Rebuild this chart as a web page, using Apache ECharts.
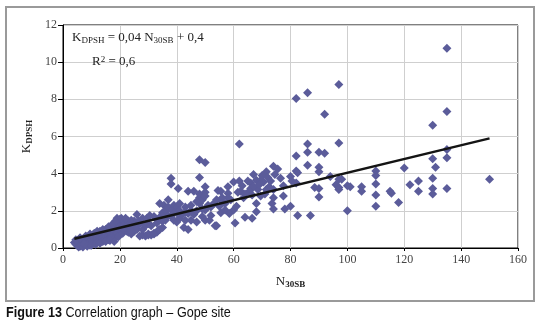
<!DOCTYPE html>
<html>
<head>
<meta charset="utf-8">
<script src="https://cdn.jsdelivr.net/npm/echarts@6/dist/echarts.min.js"></script>
<style>
  html, body { margin: 0; padding: 0; background: #fff; }
  #chart { width: 547px; height: 329px; }
</style>
</head>
<body>
<div id="chart"></div>
<script>
// N30SB vs KDPSH
var lowPoints = [
  [4,0.3],[4.5,0.2],[5,0.35],[5,0.15],[5.5,0.45],[6,0.25],[6,0.1],[6.5,0.4],[7,0.3],[7,0.15],
  [7.5,0.5],[8,0.35],[8,0.2],[8.5,0.55],[9,0.4],[9,0.25],[9.5,0.6],[10,0.45],[10,0.3],[10.5,0.7],
  [11,0.5],[11,0.35],[11.5,0.65],[12,0.55],[12,0.4],[12.5,0.75],[13,0.6],[13,0.45],[13.5,0.8],[14,0.65],
  [14,0.5],[14.5,0.85],[15,0.7],[15,0.55],[15.5,0.9],[16,0.75],[16,0.6],[16.5,1.0],[17,0.8],[17,0.65],
  [17,1.1],[17.5,0.5],[18,0.9],[18,1.15],[18,0.6],[18.5,1.2],[19,1.0],[19,0.8],[19,1.3],[19.5,1.1],
  [20,1.2],[20,0.95],[20,1.4],[20.5,1.3],[21,1.1],[21,1.5],[21.5,1.25],[22,1.0],[22,1.35],[22.5,1.2],
  [23,1.45],[23,1.1],[23.5,1.3],[24,1.0],[24,1.5],[24.5,1.25],[25,1.1],[25,1.45],[25.5,1.3],[26,1.8],
  [26,1.2],[5.5,0.05],[7,0.05],[9.5,0.15],[12,0.3],[14,0.35],[16,0.45],[11,0.8],[13,0.9],[15,1.0],
  [19,1.6],[20,1.55],[17,0.55],[18,0.5],
  [4.5,0.45],[6,0.55],[7.5,0.2],[8.5,0.1],[10,0.15],[11.5,0.2],[13,0.25],[15,0.35],[16.5,0.4],[18,0.35],
  [19.5,0.6],[21,0.8],[22.5,0.9],[24,0.75],[8,0.65],[9.5,0.75],[12,0.9],[14,1.0],[16,1.15],[17.5,1.3],
  [18.5,1.45],[20.5,1.6],[21.5,0.95],[23,0.85],[25,0.9],[26,1.0]
];
var midPoints = [
  [27,0.65],[28,0.7],[29,0.65],[30,0.75],[30,0.7],[31,0.7],[32,0.8],[32,0.75],[33,0.85],[33.5,0.95],
  [34,1.0],[35,1.1],[28,1.0],[29,1.2],[30,1.3],[31,1.2],[27,1.3],[28,1.6],[26.5,1.45],[29.5,1.6],
  [30.5,1.75],[32,1.7],[33,1.55],[34,1.65],[35,1.9],[34,2.4],[35.5,2.3],[36,1.5],[36,2.0],[37,2.6],
  [37,2.2],[38,3.75],[38,3.45],[38,1.7],[38.5,2.0],[39,1.5],[39,2.3],[40,2.2],[40,1.9],[40,1.4],
  [40.5,3.2],[41,2.4],[41,1.6],[42,1.8],[42.5,1.1],[43,2.2],[43,1.5],[44,1.0],[44,3.05],[44,1.85],
  [45,2.0],[45,1.5],[46,3.05],[46,1.8],[47,2.0],[47,1.4],[48,2.4],[48,2.7],[48,2.9],[48,3.8],
  [48,4.75],[49,2.6],[49,2.1],[49,1.7],[50,4.6],[50,3.3],[50,3.0],[50,2.8],[50,2.05],[50,1.5],
  [51,2.3],[51.5,1.5],[52,1.75],[53,2.4],[53.5,1.2],[54,1.2],[54.5,3.1],[55,2.25],[55.5,3.05],[55.5,1.9],
  [56,2.5],[57,2.05],[57,2.4],[58,3.3],[58,2.95],[58,2.7],[58.5,1.85],[60,3.55],[60,2.05],[60.5,1.35],
  [61,2.25],[61.5,3.0],[62,5.6],[62,3.6],[62.5,3.05],[63,3.35],[63.5,2.7],[64,1.65],[65,3.6],[65.5,3.05],
  [66,3.5],[66.5,1.6],[66.5,2.85],[67,3.95],[68,3.65],[68,2.4],[68,1.95],[68.5,3.15],[69.5,3.65],[69.5,2.8],
  [70.5,3.55],[71,2.9],[71.5,4.1],[71.5,3.15],[72,3.8],[72.5,3.3],[73.5,2.4],[74,4.4],[74,3.15],[74,2.7],
  [74,2.1],[74.5,3.95],[75.5,4.25],[76.5,3.75],[77.5,3.35],[77.5,2.8],[78,2.1],
  [33,1.35],[35,1.45],[37,1.75],[39,1.9],[41,2.0],[43,1.95],[45,2.3],[47,2.5],[52,2.2],[54,2.6],
  [56,2.7],[59,2.6],[64,2.9],[66,3.2],[67,3.3],[69,3.4],[70,3.9],[73,3.6],[24,0.9],[22,1.6]
];
var highPoints = [
  [135,10.75],[97,8.8],[86,8.35],[82,8.05],[92,7.2],[135,7.35],[130,6.6],[86,5.6],[97,5.65],[82,4.95],
  [86,5.15],[90,5.15],[92,5.1],[86,4.45],[90,4.35],[90,4.1],[82,4.15],[82.5,4.05],[135,5.3],[135,4.85],
  [130,4.8],[131,4.35],[120,4.3],[110,4.15],[110,3.9],[130,3.75],[150,3.7],[94,3.85],[97,3.7],[98,3.7],
  [96,3.4],[97,3.25],[97,3.15],[100,3.35],[101,3.3],[90,3.2],[88.5,3.25],[105,3.3],[105,3.05],[110,3.45],
  [110,2.85],[115,3.05],[115.5,2.95],[122,3.4],[125,3.6],[125,3.05],[130,3.2],[130,2.9],[135,3.2],[118,2.45],
  [110,2.25],[100,2.0],[90,2.75],[82.5,1.75],[87,1.75],[80,2.25],[80,3.85],[80.5,3.6],[82,3.5]
];
var trendLine = [[4, 0.5], [150, 5.9]];
var xTicks = { min: 0, max: 160, step: 20 };
var yTicks = { min: 0, max: 12, step: 2 };

var chart = echarts.init(document.getElementById('chart'));
var serif = '"Liberation Serif", "DejaVu Serif", serif';
var capFont = '"Liberation Sans", sans-serif';
var option = {
  animation: false,
  grid: {
    left: 63, top: 25, right: 29, bottom: 81,
    show: true, borderColor: '#000', borderWidth: 1
  },
  xAxis: {
    type: 'value',
    min: xTicks.min, max: xTicks.max, interval: xTicks.step,
    name: 'N{s|30SB}',
    nameLocation: 'middle',
    nameGap: 26,
    nameTextStyle: {
      fontFamily: serif, fontSize: 13, color: '#222',
      rich: { s: { fontFamily: serif, fontSize: 9, fontWeight: 'bold', color: '#222', verticalAlign: 'bottom', padding: [6, 0, 0, 0] } }
    },
    axisLine: { lineStyle: { color: '#000', width: 1 } },
    axisTick: { show: true, length: 3, lineStyle: { color: '#000' } },
    axisLabel: { fontFamily: serif, fontSize: 12, color: '#444', margin: 6 },
    splitLine: { lineStyle: { color: '#cfcfcf', width: 1 } }
  },
  yAxis: {
    type: 'value',
    min: yTicks.min, max: yTicks.max, interval: yTicks.step,
    name: 'K{s|DPSH}',
    nameLocation: 'middle',
    nameRotate: 90,
    nameGap: 27,
    nameTextStyle: {
      fontFamily: serif, fontSize: 13, color: '#222',
      rich: { s: { fontFamily: serif, fontSize: 9, fontWeight: 'bold', color: '#222', verticalAlign: 'bottom', padding: [6, 0, 0, 0] } }
    },
    axisLine: { show: true, lineStyle: { color: '#000', width: 1 } },
    axisTick: { show: true, length: 5, lineStyle: { color: '#000' } },
    axisLabel: { fontFamily: serif, fontSize: 12, color: '#444', margin: 6 },
    splitLine: { lineStyle: { color: '#cfcfcf', width: 1 } }
  },
  series: [
    {
      type: 'scatter',
      symbol: 'diamond',
      symbolSize: 9,
      itemStyle: { color: '#5b5c9a', opacity: 1 },
      data: lowPoints.concat(midPoints, highPoints),
      z: 2
    },
    {
      type: 'line',
      data: trendLine,
      symbol: 'none',
      lineStyle: { color: '#141414', width: 2.5 },
      z: 3
    }
  ],
  graphic: [
    {
      type: 'rect',
      shape: { x: 6, y: 7, width: 528, height: 294 },
      style: { fill: 'none', stroke: '#9a9a9a', lineWidth: 2 },
      z: 0
    },
    {
      type: 'text', left: 72, top: 31,
      style: {
        text: 'K{s|DPSH} = 0,04 N{s|30SB} + 0,4',
        fontFamily: serif, fontSize: 13, fill: '#222',
        rich: { s: { fontFamily: serif, fontSize: 9, fill: '#222', verticalAlign: 'bottom', padding: [6, 0, 0, 0] } }
      },
      z: 10
    },
    {
      type: 'text', left: 92, top: 55,
      style: {
        text: 'R{p|2} = 0,6',
        fontFamily: serif, fontSize: 13, fill: '#222',
        rich: { p: { fontFamily: serif, fontSize: 9, fill: '#222', verticalAlign: 'top', padding: [0, 0, 5, 0] } }
      },
      z: 10
    },
    {
      type: 'text', x: 6, y: 305, scaleX: 0.84,
      style: {
        text: '{b|Figure 13} Correlation graph \u2013 Gope site',
        fontFamily: capFont,
        fontSize: 15, fill: '#111',
        rich: { b: { fontFamily: capFont, fontSize: 15, fontWeight: 'bold', fill: '#111' } }
      }
    }
  ]
};
chart.setOption(option);
</script>
</body>
</html>
